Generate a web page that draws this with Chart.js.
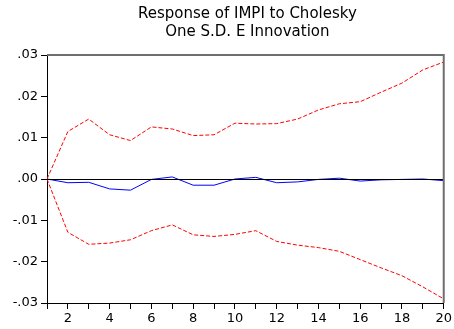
<!DOCTYPE html>
<html>
<head>
<meta charset="utf-8">
<script src="https://cdn.jsdelivr.net/npm/chart.js@4/dist/chart.umd.min.js"></script>
<style>
  html, body { margin: 0; padding: 0; background: #fff; }
  #irf { display: block; }
</style>
</head>
<body>
<canvas id="irf" width="454" height="329"></canvas>
<script>
// periods after the shock
var steps = [1, 2, 3, 4, 5, 6, 7, 8, 9, 10, 11, 12, 13, 14, 15, 16, 17, 18, 19, 20];

// response of IMPI
var response = [0.0000, -0.0009, -0.0008, -0.0024, -0.0027, -0.0001, 0.0005, -0.0015, -0.0015, 0.0000,
                0.0004, -0.0009, -0.0007, -0.0001, 0.0002, -0.0005, -0.0002, -0.0001, 0.0000, -0.0004];

// +/- 2 S.E. bands
var upperBand = [0.0000, 0.0115, 0.0145, 0.0107, 0.0093, 0.0126, 0.0121, 0.0105, 0.0107, 0.0135,
                 0.0133, 0.0134, 0.0145, 0.0167, 0.0182, 0.0187, 0.0210, 0.0232, 0.0264, 0.0283];
var lowerBand = [0.0000, -0.0129, -0.0158, -0.0155, -0.0147, -0.0125, -0.0111, -0.0135, -0.0139, -0.0134,
                 -0.0125, -0.0151, -0.0160, -0.0166, -0.0175, -0.0195, -0.0215, -0.0234, -0.0261, -0.0290];

var yTicks = [-0.03, -0.02, -0.01, 0, 0.01, 0.02, 0.03];
var titleLines = ['Response of IMPI to Cholesky', 'One S.D. E Innovation'];

function toPoints(values) {
    return steps.map(function(s, i) { return { x: s, y: values[i] }; });
}

function fmtTick(v) {
    var s = Math.abs(v).toFixed(2).replace(/^0/, '');
    return (v < -1e-9 ? '-' : '') + s;
}

var tickFont = { family: '"DejaVu Sans", sans-serif', size: 13 };

// zero line, grey frame on top/right and the two-line title, like EViews
var framePlugin = {
    id: 'frame',
    afterDatasetsDraw: function(chart) {
        var ctx = chart.ctx, a = chart.chartArea;
        var y0 = chart.scales.y.getPixelForValue(0);
        ctx.save();
        ctx.strokeStyle = '#000';
        ctx.lineWidth = 1;
        ctx.beginPath();
        ctx.moveTo(a.left, Math.round(y0) + 0.5);
        ctx.lineTo(a.right, Math.round(y0) + 0.5);
        ctx.stroke();
        ctx.strokeStyle = '#6e6e6e';
        ctx.lineWidth = 2;
        ctx.beginPath();
        ctx.moveTo(a.left, a.top);
        ctx.lineTo(a.right, a.top);
        ctx.lineTo(a.right, a.bottom);
        ctx.stroke();

        ctx.fillStyle = '#000';
        ctx.font = '15px "DejaVu Sans", sans-serif';
        ctx.textAlign = 'center';
        ctx.textBaseline = 'middle';
        var cx = (a.left + a.right) / 2 + 2;
        ctx.fillText(titleLines[0], cx, 14);
        ctx.fillText(titleLines[1], cx, 32);
        ctx.restore();
    }
};

new Chart(document.getElementById('irf').getContext('2d'), {
    type: 'line',
    data: {
        datasets: [
            {
                label: 'Upper',
                data: toPoints(upperBand),
                borderColor: '#ff0000',
                borderWidth: 1,
                borderDash: [4, 2],
                pointRadius: 0,
                fill: false,
                tension: 0
            },
            {
                label: 'Lower',
                data: toPoints(lowerBand),
                borderColor: '#ff0000',
                borderWidth: 1,
                borderDash: [4, 2],
                pointRadius: 0,
                fill: false,
                tension: 0
            },
            {
                label: 'Response',
                data: toPoints(response),
                borderColor: '#0000ff',
                borderWidth: 1,
                pointRadius: 0,
                fill: false,
                tension: 0
            }
        ]
    },
    options: {
        responsive: false,
        animation: false,
        devicePixelRatio: 1,
        layout: { padding: { left: 0, right: 10, top: 55, bottom: 0 } },
        plugins: {
            legend: { display: false },
            tooltip: { enabled: false },
            title: { display: false }
        },
        scales: {
            x: {
                type: 'linear',
                min: 1,
                max: 20,
                afterFit: function(scale) { scale.height = 26; },
                border: { color: '#000', width: 1 },
                grid: { drawOnChartArea: false, color: '#000', tickLength: 6 },
                ticks: {
                    stepSize: 1,
                    autoSkip: false,
                    maxRotation: 0,
                    color: '#000',
                    font: tickFont,
                    padding: 2,
                    callback: function(v) { return v % 2 === 0 ? v : ''; }
                }
            },
            y: {
                min: -0.03,
                max: 0.03,
                afterFit: function(scale) { scale.width = 47; },
                afterBuildTicks: function(scale) {
                    scale.ticks = yTicks.map(function(v) { return { value: v }; });
                },
                border: { color: '#000', width: 1 },
                grid: { drawOnChartArea: false, color: '#000', tickLength: 6 },
                ticks: {
                    color: '#000',
                    font: tickFont,
                    padding: 3,
                    callback: fmtTick
                }
            }
        }
    },
    plugins: [framePlugin]
});
</script>
</body>
</html>
